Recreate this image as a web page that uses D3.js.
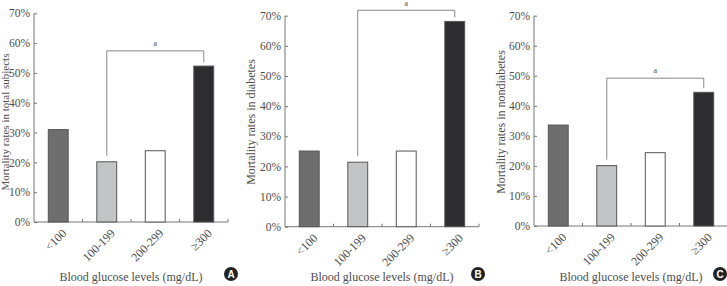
<!DOCTYPE html>
<html lang="en">
<head>
<meta charset="UTF-8">
<title>Mortality rates by blood glucose level</title>
<script src="https://cdn.jsdelivr.net/npm/d3@7"></script>
<style>
  body { margin: 0; background: #fff; }
  svg { display: block; }
  text { font-family: "Liberation Serif", "DejaVu Serif", serif; fill: #4d4d4d; }
</style>
</head>
<body>
<div id="chart"></div>
<script>
// data
var categories = ["<100", "100-199", "200-299", "\u2265300"];
var totalRates = [0.31, 0.202, 0.239, 0.523];
var diabetesRates = [0.251, 0.214, 0.251, 0.681];
var nondiabetesRates = [0.336, 0.201, 0.244, 0.445];
var yTicks = [0, 0.1, 0.2, 0.3, 0.4, 0.5, 0.6, 0.7];
var barColors = ["#6e6e6e", "#c3c4c5", "#ffffff", "#2c2c31"];
var bracketLevels = [0.574, 0.718, 0.492]; // height of the "a" bracket
var panelLabels = ["A", "B", "C"];
var yTitles = ["Mortality rates in total subjects", "Mortality rates in diabetes", "Mortality rates in nondiabetes"];

var svg = d3.select("#chart").append("svg")
  .attr("width", 727)
  .attr("height", 286);

// per panel layout
var panels = [
  {values: totalRates, left: 34, right: 228, bottom: 222, top: 13.3, titleX: 5.5, titleSize: 11, badgeX: 231},
  {values: diabetesRates, left: 285, right: 479, bottom: 226.7, top: 15.7, titleX: 251, titleSize: 12, badgeX: 478},
  {values: nondiabetesRates, left: 534, right: 728, bottom: 226, top: 15.7, titleX: 501, titleSize: 12, badgeX: 720}
];

panels.forEach(function(p, i) {
  var g = svg.append("g");

  var x = d3.scaleBand().domain(categories).range([p.left, p.right]).paddingInner(0.59).paddingOuter(0.295);
  var y = d3.scaleLinear().domain([0, 0.7]).range([p.bottom, p.top]);

  // y axis
  var yAxis = g.append("g")
    .attr("transform", "translate(" + p.left + ",0)")
    .call(d3.axisLeft(y).tickValues(yTicks).tickFormat(d3.format(".0%")).tickSize(-3).tickPadding(4));
  yAxis.select(".domain").attr("stroke", "#777").attr("d", "M0," + y(0) + "V" + y(0.7));
  yAxis.selectAll(".tick line").attr("stroke", "#777");
  yAxis.selectAll(".tick text").style("font-size", "11.5px").style("fill", "#4d4d4d")
    .style("font-family", "Liberation Serif, serif");

  // x axis line with small inner ticks between bars
  g.append("line")
    .attr("x1", p.left).attr("x2", p.right)
    .attr("y1", p.bottom).attr("y2", p.bottom)
    .attr("stroke", "#777");
  g.selectAll(".sep").data(categories).enter().append("line")
    .attr("x1", function(d) { return x(d) + x.bandwidth() + x.step() * 0.295; })
    .attr("x2", function(d) { return x(d) + x.bandwidth() + x.step() * 0.295; })
    .attr("y1", p.bottom).attr("y2", p.bottom - 3)
    .attr("stroke", "#777");

  // bars
  g.selectAll(".bar").data(p.values).enter().append("rect")
    .attr("x", function(d, j) { return x(categories[j]); })
    .attr("y", function(d) { return y(d); })
    .attr("width", x.bandwidth())
    .attr("height", function(d) { return y(0) - y(d); })
    .attr("fill", function(d, j) { return barColors[j]; })
    .attr("stroke", "#555")
    .attr("stroke-width", 1);

  // x tick labels, rotated
  g.selectAll(".xl").data(categories).enter().append("text")
    .attr("transform", function(d) {
      return "translate(" + (x(d) + x.bandwidth() / 2 + 6) + "," + (p.bottom + 9) + ") rotate(-45)";
    })
    .attr("text-anchor", "end")
    .attr("dy", "0.35em")
    .style("font-size", "12px")
    .text(function(d) { return d; });

  // significance bracket between 100-199 and >=300
  var xl = x(categories[1]) + x.bandwidth() / 2;
  var xr = x(categories[3]) + x.bandwidth() / 2;
  var yb = y(bracketLevels[i]);
  g.append("path")
    .attr("d", "M" + xl + "," + (y(p.values[1]) - 6) + "V" + yb + "H" + xr + "V" + (y(p.values[3]) - 4))
    .attr("fill", "none")
    .attr("stroke", "#888")
    .attr("stroke-width", 1);
  g.append("text")
    .attr("x", (xl + xr) / 2)
    .attr("y", Math.max(yb - 5, 6))
    .attr("text-anchor", "middle")
    .style("font-size", "8px")
    .text("a");

  // axis titles
  g.append("text")
    .attr("transform", "translate(" + p.titleX + "," + 122 + ") rotate(-90)")
    .attr("text-anchor", "middle")
    .attr("dy", "0.35em")
    .style("font-size", p.titleSize + "px")
    .text(yTitles[i]);
  g.append("text")
    .attr("x", (p.left + p.right) / 2)
    .attr("y", 277)
    .attr("text-anchor", "middle")
    .attr("dy", "0.35em")
    .style("font-size", "12px")
    .text("Blood glucose levels (mg/dL)");

  // panel badge
  g.append("circle")
    .attr("cx", p.badgeX).attr("cy", 274).attr("r", 7)
    .attr("fill", "#222");
  g.append("text")
    .attr("x", p.badgeX).attr("y", 274)
    .attr("text-anchor", "middle")
    .attr("dy", "0.36em")
    .style("font-family", "Liberation Sans, Arial, sans-serif")
    .style("font-weight", "bold")
    .style("font-size", "10px")
    .style("fill", "#fff")
    .text(panelLabels[i]);
});
</script>
</body>
</html>
